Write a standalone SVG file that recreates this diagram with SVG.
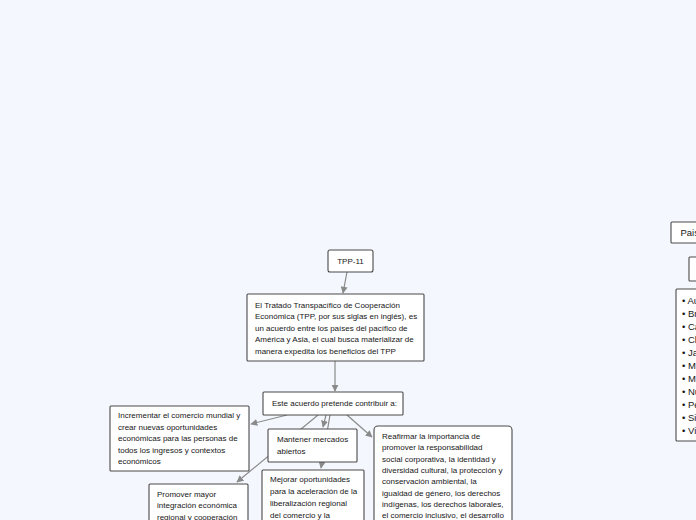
<svg xmlns="http://www.w3.org/2000/svg" width="696" height="520" viewBox="0 0 696 520">
<defs>
<style>
.bg{fill:#f4f7fd}
.box{fill:#ffffff;stroke:#4a4a4a;stroke-width:1.1}
.t{font-family:"Liberation Sans","Noto Sans",sans-serif;font-size:8px;fill:#161616}
.r{font-family:"Liberation Sans","Noto Sans",sans-serif;font-size:9.5px;fill:#161616}
.c{fill:none;stroke:#8a8a8a;stroke-width:1.2;marker-end:url(#ah)}
</style>
<marker id="ah" viewBox="0 0 10 10" refX="9" refY="5" markerWidth="7" markerHeight="7" markerUnits="userSpaceOnUse" orient="auto">
<path d="M0,0 L10,5 L0,10 z" fill="#8a8a8a"/>
</marker>
</defs>
<rect class="bg" x="0" y="0" width="696" height="520"/>
<g id="connectors">
<path class="c" d="M347,272 L343,293"/>
<path class="c" d="M335,361 L335,391"/>
<path class="c" d="M287,415 L251,424"/>
<path class="c" d="M318,415 L237,482"/>
<path class="c" d="M330,415 L321,468"/>
<path class="c" d="M326,415 L323,427"/>
<path class="c" d="M347,415 L372,437"/>
</g>
<g id="n-tpp11">
<rect class="box" x="328" y="250" width="45" height="22" rx="2"/>
<text class="t" x="350.5" y="264" text-anchor="middle">TPP-11</text>
</g>
<g id="n-tratado">
<rect class="box" x="247" y="294" width="177" height="67" rx="1"/>
<text class="t" x="255" y="307.5">El Tratado Transpacífico de Cooperación</text>
<text class="t" x="255" y="319">Económica (TPP, por sus siglas en inglés), es</text>
<text class="t" x="255" y="330.5">un acuerdo entre los países del pacífico de</text>
<text class="t" x="255" y="342">América y Asia, el cual busca materializar de</text>
<text class="t" x="255" y="353.5">manera expedita los beneficios del TPP</text>
</g>
<g id="n-este">
<rect class="box" x="263" y="392" width="140" height="23" rx="1"/>
<text class="t" x="272" y="406">Este acuerdo pretende contribuir a:</text>
</g>
<g id="n-incrementar">
<rect class="box" x="110" y="406" width="139" height="65" rx="1"/>
<text class="t" x="118" y="418">Incrementar el comercio mundial y</text>
<text class="t" x="118" y="429.5">crear nuevas oportunidades</text>
<text class="t" x="118" y="441">económicas para las personas de</text>
<text class="t" x="118" y="452.5">todos los ingresos y contextos</text>
<text class="t" x="118" y="464">económicos</text>
</g>
<g id="n-mantener">
<rect class="box" x="268" y="429" width="89" height="33" rx="1"/>
<text class="t" x="277" y="442">Mantener mercados</text>
<text class="t" x="277" y="453.5">abiertos</text>
</g>
<g id="n-mejorar">
<rect class="box" x="262" y="470" width="102" height="60" rx="1"/>
<text class="t" x="270" y="482">Mejorar oportunidades</text>
<text class="t" x="270" y="494">para la aceleración de la</text>
<text class="t" x="270" y="506">liberalización regional</text>
<text class="t" x="270" y="518">del comercio y la</text>
</g>
<g id="n-promover">
<rect class="box" x="149" y="484" width="99" height="46" rx="1"/>
<text class="t" x="157" y="496.5">Promover mayor</text>
<text class="t" x="157" y="508">integración económica</text>
<text class="t" x="157" y="519.5">regional y cooperación</text>
</g>
<g id="n-reafirmar">
<rect class="box" x="374" y="426" width="138" height="104" rx="4"/>
<text class="t" x="382" y="439">Reafirmar la importancia de</text>
<text class="t" x="382" y="450.3">promover la responsabilidad</text>
<text class="t" x="382" y="461.6">social corporativa, la identidad y</text>
<text class="t" x="382" y="472.9">diversidad cultural, la protección y</text>
<text class="t" x="382" y="484.2">conservación ambiental, la</text>
<text class="t" x="382" y="495.5">igualdad de género, los derechos</text>
<text class="t" x="382" y="506.8">indígenas, los derechos laborales,</text>
<text class="t" x="382" y="518.1">el comercio inclusivo, el desarrollo</text>
</g>
<g id="n-paises">
<rect class="box" x="671" y="222" width="60" height="21" rx="1"/>
<text class="r" x="680.5" y="236">Paises</text>
</g>
<g id="n-sub">
<rect class="box" x="689" y="257" width="40" height="24" rx="1"/>
</g>
<g id="n-lista">
<rect class="box" x="676" y="289" width="60" height="152" rx="1"/>
<text class="r" x="682" y="303.5">• Australia</text>
<text class="r" x="682" y="316.5">• Brunéi</text>
<text class="r" x="682" y="329.5">• Canadá</text>
<text class="r" x="682" y="342.5">• Chile</text>
<text class="r" x="682" y="355.5">• Japón</text>
<text class="r" x="682" y="368.5">• Malasia</text>
<text class="r" x="682" y="381.5">• México</text>
<text class="r" x="682" y="394.5">• Nueva Zelanda</text>
<text class="r" x="682" y="407.5">• Perú</text>
<text class="r" x="682" y="420.5">• Singapur</text>
<text class="r" x="682" y="433.5">• Vietnam</text>
</g>
</svg>
